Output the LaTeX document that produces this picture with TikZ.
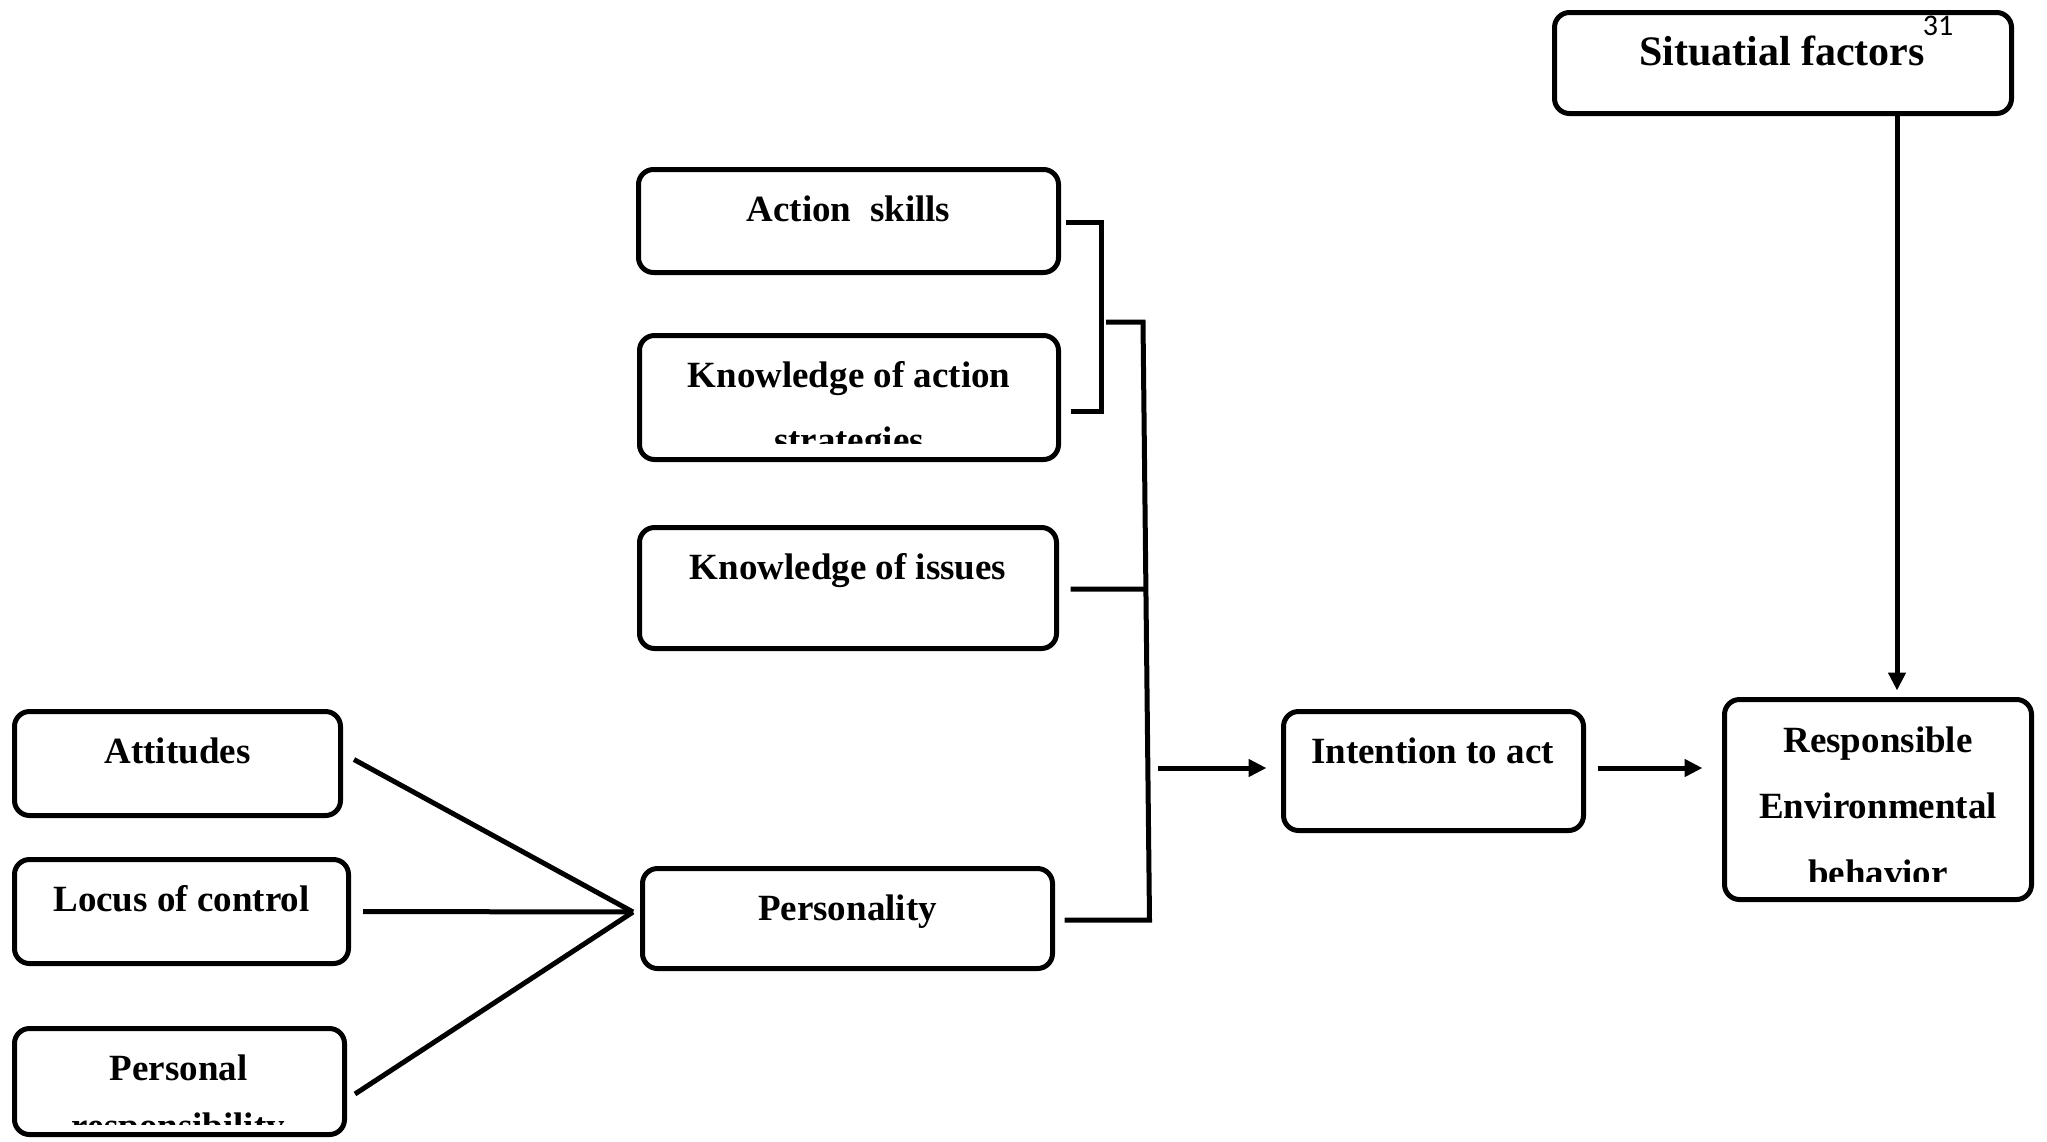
\documentclass[tikz,border=0pt]{standalone}
\usepackage{fontspec}
\setmainfont{Liberation Serif}
\newfontfamily\numfont{Carlito}
\usetikzlibrary{arrows.meta,calc}
\begin{document}
\begin{tikzpicture}[x=1pt,y=-1pt,
  box/.style={draw, line width=5pt, rounded corners=15pt, inner sep=0pt},
  txt/.style={anchor=base, inner sep=0pt, font=\fontsize{37}{44}\selectfont\bfseries},
  bigtxt/.style={anchor=base, inner sep=0pt, font=\fontsize{42}{50}\selectfont\bfseries},
  con/.style={line width=5pt, line join=miter},
  arr/.style={line width=5pt, -{Triangle[length=18pt,width=17pt]}}]
\fill[white] (0,0) rectangle (2047,1141);
\useasboundingbox (0,0) rectangle (2047,1141);

% boxes
\node[box, minimum width=457pt, minimum height=101pt] (sit) at (1783,63) {};
\node[box, minimum width=420pt, minimum height=103pt] (act) at (848.5,221) {};
\node[box, minimum width=419pt, minimum height=124pt] (koa) at (849,397.5) {};
\node[box, minimum width=417pt, minimum height=121pt] (koi) at (848,588) {};
\node[box, minimum width=410pt, minimum height=100pt] (per) at (847.5,918.5) {};
\node[box, minimum width=326pt, minimum height=104pt] (att) at (177.5,763.5) {};
\node[box, minimum width=334pt, minimum height=104pt] (loc) at (181.5,911.5) {};
\node[box, minimum width=330pt, minimum height=106pt] (pr) at (179.5,1081.5) {};
\node[box, minimum width=300pt, minimum height=119pt] (int) at (1433.5,771) {};
\node[box, minimum width=307pt, minimum height=200pt] (reb) at (1878,799.5) {};

% texts
\node[bigtxt] (sit-t) at ($(sit.north)+(-1,55)$) {Situatial factors};
\node[inner sep=0pt, font=\numfont\fontsize{30}{36}\selectfont] (sit-n) at (1938,25.5) {31};
\node[txt] (act-t) at ($(act.north)+(0,54)$) {Action\ \ skills};
\begin{scope}
  \clip ($(koa.north west)$) rectangle ($(koa.south east)+(0,-19)$);
  \node[txt] (koa-t1) at ($(koa.north)+(0,54)$) {Knowledge of action};
  \node[txt] (koa-t2) at ($(koa.north)+(0,119)$) {strategies};
\end{scope}
\node[txt] (koi-t) at ($(koi.north)+(0,54)$) {Knowledge of issues};
\node[txt] (per-t) at ($(per.north)+(0,54)$) {Personality};
\node[txt] (att-t) at ($(att.north)+(0,54)$) {Attitudes};
\node[txt] (loc-t) at ($(loc.north)+(0,54)$) {Locus of control};
\begin{scope}
  \clip ($(pr.north west)$) rectangle ($(pr.south east)+(0,-13)$);
  \node[txt] (pr-t1) at ($(pr.north)+(-1,54)$) {Personal};
  \node[txt] (pr-t2) at ($(pr.north)+(-1,112)$) {responsibility};
\end{scope}
\node[txt] (int-t) at ($(int.north)+(-1,54)$) {Intention to act};
\begin{scope}
  \clip ($(reb.north west)$) rectangle ($(reb.south east)+(0,-21)$);
  \node[txt] (reb-t1) at ($(reb.north)+(0,55)$) {Responsible};
  \node[txt] (reb-t2) at ($(reb.north)+(0,121)$) {Environmental};
  \node[txt] (reb-t3) at ($(reb.north)+(0,188)$) {behavior};
\end{scope}

% connectors to Personality
\coordinate (hub) at (633,912);
\draw[con] ($(att.east)+(11,-4)$) -- (hub);
\draw[con] ($(loc.east)+(12,0)$) -- (hub);
\draw[con] ($(pr.east)+(8,12.5)$) -- (hub);

% first bracket
\coordinate (j1) at ($(act.east)+(40.5,1)$);
\coordinate (j2) at ($(koa.east)+(40.5,13.5)$);
\draw[con] ($(act.east)+(4.5,1)$) -- (j1) -- (j2) -- ($(koa.east)+(9.5,13.5)$);

% second bracket
\coordinate (k1) at (1106,322);
\coordinate (k2) at (1143,322);
\coordinate (k3) at ($(per.east)+(94.5,1.5)$);
\draw[con] (k1) -- (k2) -- (k3) -- ($(per.east)+(9.5,1.5)$);
\draw[con] ($(koi.east)+(11.5,1)$) -- ($(k2)!0.4465!(k3)$);

% arrows
\coordinate (f1) at (1158,768);
\draw[arr] (f1) -- ($(int.west)+(-14.5,-3)$);
\coordinate (i1) at ($(int.east)+(11.5,-3)$);
\draw[arr] (i1) -- ($(i1 -| reb.west)+(-19.5,0)$);
\coordinate (s1) at ($(sit.south)+(114,0)$);
\draw[arr] (s1) -- ($(s1 |- reb.north)+(0,-6.5)$);
\end{tikzpicture}
\end{document}
